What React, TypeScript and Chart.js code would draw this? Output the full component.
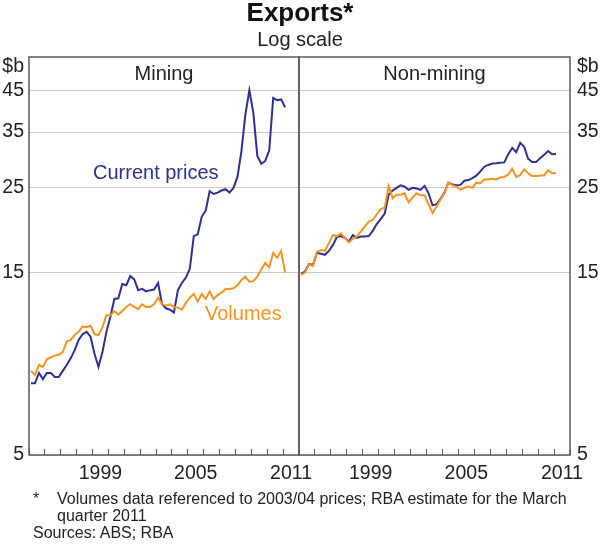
import React, { useEffect, useRef } from 'react';
import { Chart, registerables } from 'chart.js';

Chart.register(...registerables);

const FONT = '"Liberation Sans", Arial, Helvetica, sans-serif';
const BLUE = '#2e3192';
const ORANGE = '#f7931e';
const GRID = '#cccccc';
const FRAME = '#5a5a5a';

// quarterly observations, March quarter 1995 to March quarter 2011 (plotted mid-quarter)
const quarters: number[] = [];
for (let yr = 1995; yr <= 2011; yr++) {
  for (let q = 1; q <= 4; q++) {
    if (yr < 2011 || q === 1) quarters.push(yr + (q - 0.5) / 4);
  }
}

// $b, log scale
const miningCurrent = [
  7.7, 7.7, 8.2, 7.9, 8.2, 8.2, 8.0, 8.0, 8.3, 8.6,
  8.95, 9.4, 10.0, 10.35, 10.5, 10.2, 9.2, 8.5, 9.3, 10.5,
  11.5, 12.8, 12.85, 14.0, 13.9, 14.7, 14.4, 13.5, 13.6, 13.4,
  13.5, 13.55, 14.1, 12.4, 12.1, 12.0, 11.8, 13.5, 14.1, 14.55,
  15.35, 18.7, 18.9, 21.0, 21.8, 24.5, 24.1, 24.3, 24.6, 24.8,
  24.3, 25.0, 26.7, 31.2, 38.9, 45.0, 39.3, 30.3, 28.9, 29.4,
  31.3, 43.0, 42.4, 42.6, 40.6,
];
const miningVolumes = [
  8.3, 8.1, 8.6, 8.5, 8.9, 9.0, 9.1, 9.15, 9.3, 9.9,
  10.0, 10.3, 10.5, 10.85, 10.8, 10.9, 10.35, 10.3, 10.8, 11.6,
  11.6, 11.9, 11.65, 11.9, 12.2, 12.4, 12.2, 12.05, 12.4, 12.2,
  12.2, 12.4, 12.9, 12.4, 12.3, 12.4, 12.2, 12.15, 12.0, 12.5,
  12.9, 13.2, 12.6, 13.2, 12.8, 13.4, 12.8, 13.1, 13.3, 13.6,
  13.6, 13.65, 13.9, 14.35, 14.65, 14.2, 14.25, 14.65, 15.3, 15.9,
  15.5, 16.9, 16.4, 17.1, 15.0,
];
const nonMiningCurrent = [
  14.9, 15.1, 15.8, 15.7, 16.9, 16.8, 16.7, 17.1, 17.7, 18.6,
  18.7, 18.5, 18.1, 18.8, 18.5, 18.65, 18.65, 18.7, 19.3, 20.1,
  20.7, 21.4, 24.0, 24.6, 25.0, 25.4, 25.2, 24.7, 25.0, 24.9,
  24.7, 25.3, 24.2, 22.5, 22.65, 23.4, 24.3, 25.8, 25.5, 25.4,
  25.45, 26.1, 26.2, 26.5, 26.9, 27.6, 28.4, 28.7, 28.95, 29.0,
  29.1, 29.15, 30.6, 31.8, 31.0, 32.8, 32.0, 29.8, 29.2, 29.2,
  29.9, 30.5, 31.2, 30.6, 30.65,
];
const nonMiningVolumes = [
  14.8, 15.0, 15.8, 15.6, 17.0, 17.2, 17.1, 17.9, 18.8, 18.7,
  19.0, 18.5, 18.0, 18.4, 18.65, 19.2, 19.8, 20.4, 20.6, 21.3,
  22.0, 22.2, 25.3, 23.5, 24.0, 24.0, 24.2, 22.9, 23.6, 24.2,
  23.9, 23.9, 22.65, 21.5, 22.3, 23.3, 24.2, 25.8, 25.4, 25.2,
  24.7, 25.0, 25.2, 25.0, 25.8, 25.7, 26.3, 26.3, 26.4, 26.3,
  26.6, 26.7, 27.1, 28.05, 26.7, 27.0, 27.95, 27.3, 26.85, 26.85,
  26.95, 26.95, 27.8, 27.3, 27.3,
];

const yTicks = [5, 15, 25, 35, 45];
const xTickYears = [
  1995, 1996, 1997, 1998, 1999, 2000, 2001, 2002, 2003,
  2004, 2005, 2006, 2007, 2008, 2009, 2010, 2011, 2012,
];
const xLabels = [1999, 2005, 2011];

const toPoints = (vals: number[]) => vals.map((v, i) => ({ x: quarters[i], y: v }));

// box around the plot area
const framePlugin = {
  id: 'frame',
  afterDatasetsDraw(chart: any) {
    const { ctx, chartArea: a } = chart;
    ctx.save();
    ctx.strokeStyle = FRAME;
    ctx.lineWidth = 1.5;
    ctx.strokeRect(a.left, a.top, a.right - a.left, a.bottom - a.top);
    ctx.restore();
  },
};

interface PanelProps {
  side: 'left' | 'right';
  current: number[];
  volumes: number[];
}

const Panel: React.FC<PanelProps> = ({ side, current, volumes }) => {
  const canvasRef = useRef<HTMLCanvasElement | null>(null);

  useEffect(() => {
    if (!canvasRef.current) return;
    const left = side === 'left';
    const chart = new Chart(canvasRef.current, {
      type: 'line',
      data: {
        datasets: [
          { data: toPoints(volumes), borderColor: ORANGE, borderWidth: 2, pointRadius: 0, tension: 0 },
          { data: toPoints(current), borderColor: BLUE, borderWidth: 2, pointRadius: 0, tension: 0 },
        ],
      },
      options: {
        animation: false,
        responsive: true,
        maintainAspectRatio: false,
        layout: {
          padding: left
            ? { left: 0, right: 301, top: 57, bottom: 64 }
            : { left: 299, right: 0, top: 57, bottom: 64 },
        },
        plugins: { legend: { display: false }, tooltip: { enabled: false } },
        scales: {
          x: {
            type: 'linear',
            min: 1995,
            max: 2012,
            bounds: 'data',
            afterBuildTicks: (s: any) => {
              s.ticks = xTickYears.map((v) => ({ value: v }));
            },
            afterFit: (s: any) => {
              s.height = 25;
              s.paddingLeft = 0;
              s.paddingRight = 0;
            },
            grid: { drawOnChartArea: false, drawTicks: true, tickLength: -6, tickColor: FRAME, tickWidth: 1 },
            border: { display: false },
            ticks: {
              autoSkip: false,
              maxRotation: 0,
              padding: 13,
              labelOffset: 7.9,
              color: '#222',
              font: { family: FONT, size: 19.5 },
              callback: (v: any) => (xLabels.includes(Number(v)) ? String(v) : ''),
            },
          },
          y: {
            type: 'logarithmic',
            position: left ? 'left' : 'right',
            min: 5,
            max: 55,
            bounds: 'data',
            afterBuildTicks: (s: any) => {
              s.ticks = yTicks.map((v) => ({ value: v }));
            },
            afterFit: (s: any) => {
              s.width = left ? 29 : 30;
            },
            grid: { color: GRID, lineWidth: 1, drawTicks: false },
            border: { display: false },
            ticks: {
              padding: left ? 5 : 7,
              color: '#222',
              font: { family: FONT, size: 19.5 },
              callback: (v: any) => String(v),
            },
          },
        },
      },
      plugins: [framePlugin],
    });
    return () => chart.destroy();
  }, [side, current, volumes]);

  return (
    <div style={{ position: 'absolute', left: 0, top: 0, width: 600, height: 544 }}>
      <canvas ref={canvasRef} />
    </div>
  );
};

interface TextProps {
  x: number;
  y: number; // vertical centre of the capitals
  size: number;
  align?: 'left' | 'center' | 'right';
  color?: string;
  bold?: boolean;
  children: React.ReactNode;
}

const Text: React.FC<TextProps> = ({ x, y, size, align = 'left', color = '#222', bold = false, children }) => {
  const style: React.CSSProperties = {
    position: 'absolute',
    top: y - size / 2,
    fontFamily: FONT,
    fontSize: size,
    lineHeight: `${size}px`,
    fontWeight: bold ? 700 : 400,
    color,
    whiteSpace: 'nowrap',
  };
  if (align === 'left') style.left = x;
  else if (align === 'right') style.right = 600 - x;
  else {
    style.left = x;
    style.transform = 'translateX(-50%)';
  }
  return <div style={style}>{children}</div>;
};

export default function App() {
  return (
    <div style={{ position: 'absolute', left: 0, top: 0, width: 600, height: 544, background: '#fff', overflow: 'hidden' }}>
      <Panel side="left" current={miningCurrent} volumes={miningVolumes} />
      <Panel side="right" current={nonMiningCurrent} volumes={nonMiningVolumes} />
      <Text x={300} y={12} size={26} align="center" bold color="#111">Exports*</Text>
      <Text x={300} y={39} size={20} align="center">Log scale</Text>
      <Text x={164} y={73} size={20} align="center">Mining</Text>
      <Text x={434.5} y={73} size={20} align="center">Non-mining</Text>
      <Text x={24} y={66} size={19.5} align="right">$b</Text>
      <Text x={577} y={66} size={19.5}>$b</Text>
      <Text x={93} y={172} size={20} color={BLUE}>Current prices</Text>
      <Text x={205} y={313} size={20} color={ORANGE}>Volumes</Text>
      <Text x={33} y={499} size={16}>*</Text>
      <Text x={57} y={499} size={16}>Volumes data referenced to 2003/04 prices; RBA estimate for the March</Text>
      <Text x={57} y={516} size={16}>quarter 2011</Text>
      <Text x={33} y={533} size={16}>Sources: ABS; RBA</Text>
    </div>
  );
}
